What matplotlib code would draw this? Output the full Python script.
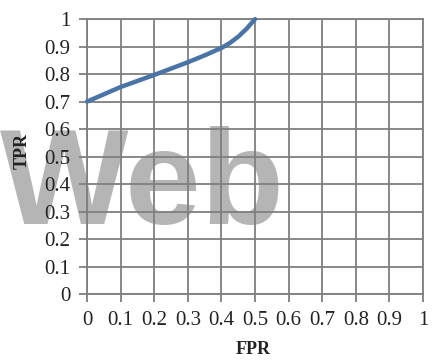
import matplotlib.pyplot as plt
import numpy as np

# ROC curve points
fpr = [0.0, 0.1, 0.2, 0.3, 0.35, 0.4, 0.425, 0.45, 0.475, 0.5]
tpr = [0.70, 0.753, 0.797, 0.843, 0.868, 0.895, 0.913, 0.936, 0.965, 1.0]
ticks = np.round(np.arange(0, 1.01, 0.1), 1)
tick_labels = ["0" if t == 0 else ("1" if t == 1 else f"{t:.1f}") for t in ticks]

plt.rcParams['font.family'] = ['Liberation Serif', 'DejaVu Serif']

fig = plt.figure(figsize=(4.33, 3.6), dpi=100)
ax = fig.add_axes([0.201, 0.183, 0.776, 0.764])

grid_col = '#7f7f7f'
ax.set_xlim(0, 1)
ax.set_ylim(0, 1)
ax.set_xticks(ticks)
ax.set_yticks(ticks)
ax.set_xticklabels(tick_labels)
ax.set_yticklabels(tick_labels)
ax.grid(True, color=grid_col, linewidth=1.3)
ax.tick_params(direction='out', length=6, width=1.3, color=grid_col,
               labelsize=15, labelcolor='#222222', pad=6)
for s in ax.spines.values():
    s.set_color(grid_col)
    s.set_linewidth(1.3)

ax.plot(fpr, tpr, color='#4a74a6', linewidth=3.2, solid_capstyle='round',
        solid_joinstyle='round', zorder=3, clip_on=False)

# watermark text behind the grid
ax.text(0.0, 0.378, "Web", transform=fig.transFigure, family='Liberation Sans',
        fontweight='bold', fontsize=98, color='#b5b5b5', ha='left',
        va='baseline', zorder=0.2, clip_on=False)

fig.text(0.585, 0.028, "FPR", fontsize=13, fontweight='bold', ha='center',
         va='center', color='#222222')
fig.text(0.052, 0.58, "TPR", fontsize=13, fontweight='bold', ha='center',
         va='center', rotation=90, color='#222222')

fig.savefig("out.png", dpi=100)
